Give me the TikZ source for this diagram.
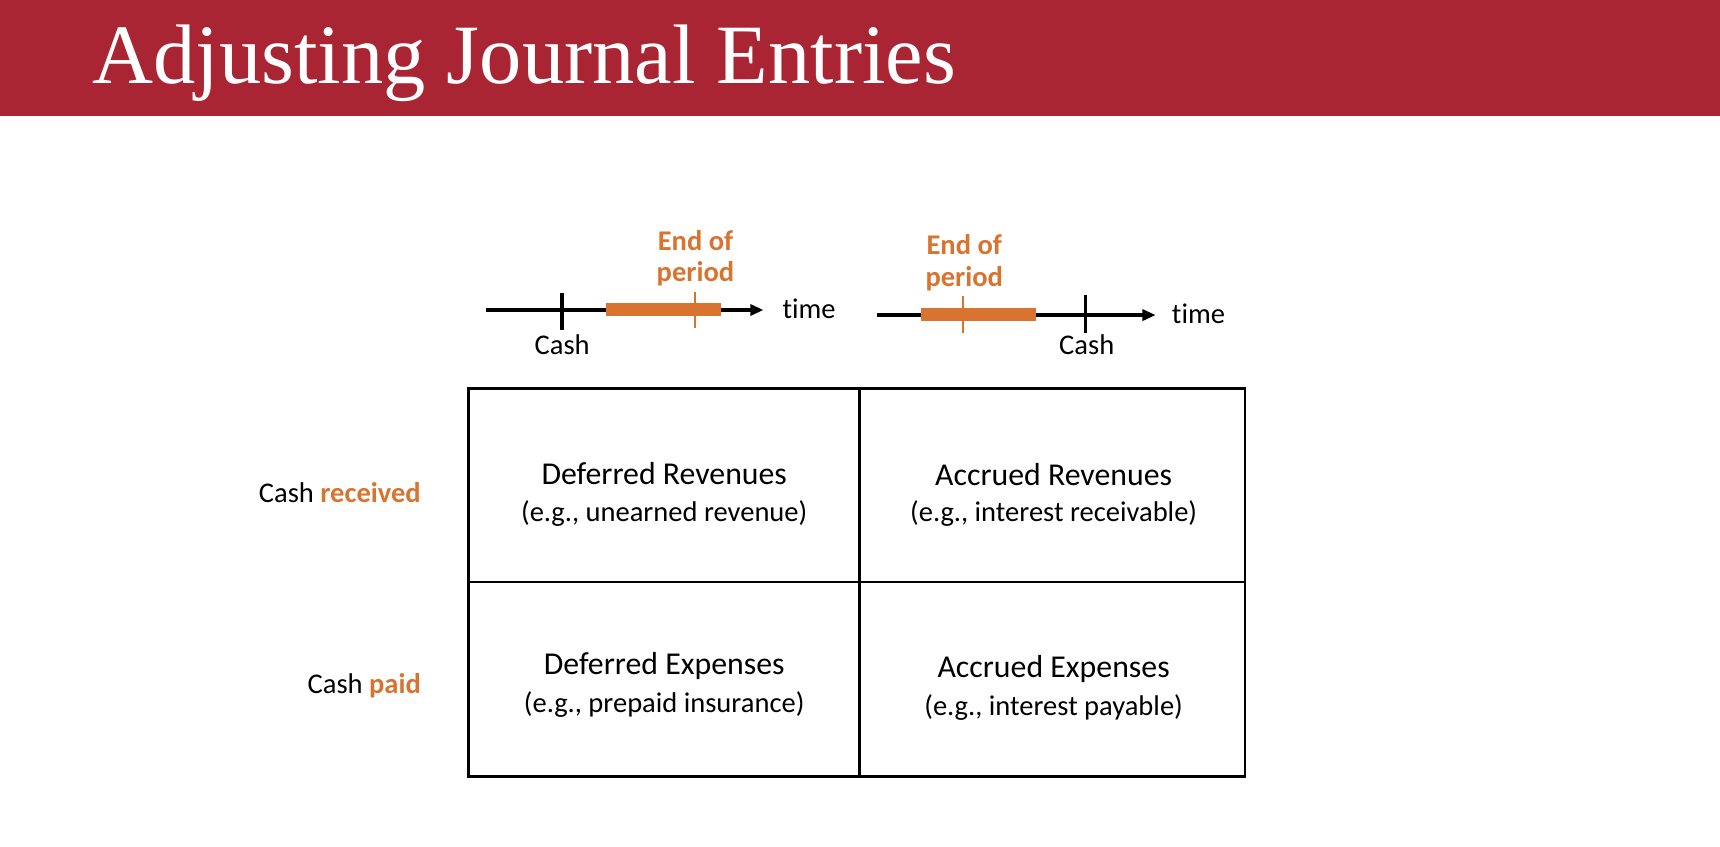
\documentclass[tikz,border=0pt]{standalone}
\usepackage{fontspec}
\setmainfont[Ligatures=NoCommon]{Carlito}
\newfontfamily\titlefont{Liberation Serif}
\usetikzlibrary{arrows.meta}
\definecolor{banner}{RGB}{169,37,52}
\definecolor{accent}{RGB}{216,115,48}
\tikzset{
  lbl/.style={inner sep=0pt, anchor=base, font=\fontsize{13}{15}\selectfont},
  cellhead/.style={inner sep=0pt, anchor=base, font=\fontsize{14.5}{17}\selectfont},
  celleg/.style={inner sep=0pt, anchor=base, font=\fontsize{13}{15}\selectfont},
  eop/.style={lbl, text=accent, font=\fontsize{13}{15}\selectfont\bfseries},
  tline/.style={line width=1.5pt, -{Triangle[length=6pt,width=5pt]}},
  tick/.style={line width=1.5pt},
  otick/.style={line width=1pt, accent},
  cellgrid/.style={line width=1.1pt}
}
\begin{document}
\begin{tikzpicture}[x=0.5pt, y=-0.5pt]
  \useasboundingbox (0, 0) rectangle (1568, 772);
  \fill[banner] (0, 0) rectangle (1568, 106);
  \node[anchor=base west, inner sep=0pt, text=white] (title) at (84, 76)
    {\titlefont\fontsize{38.5}{44}\selectfont Adjusting Journal Entries};

  \coordinate (ta-start) at (443, 282.6);
  \coordinate (ta-end) at (696, 282.6);
  \draw[tline] (ta-start) -- (ta-end);
  \draw[tick] (512.2, 266.8) -- (512.2, 300.8);
  \fill[accent] (552, 276) rectangle (657, 288);
  \draw[otick] (633.3, 265.9) -- (633.3, 299.3);
  \node[lbl, anchor=base west] (ta-time) at (713, 290) {time};
  \node[lbl] (ta-cash) at (512.5, 323.6) {Cash};
  \node[eop] (ta-end1) at (634, 228) {End of};
  \node[eop] (ta-end2) at (634, 256.8) {period};

  \coordinate (tb-start) at (799.4, 287.2);
  \coordinate (tb-end) at (1053.5, 287.2);
  \draw[tline] (tb-start) -- (tb-end);
  \fill[accent] (839.6, 280.5) rectangle (944.3, 292.5);
  \draw[otick] (878, 269.8) -- (878, 303.3);
  \draw[tick] (989.4, 269.2) -- (989.4, 303.3);
  \node[lbl, anchor=base west] (tb-time) at (1068, 295) {time};
  \node[lbl] (tb-cash) at (990.7, 323.6) {Cash};
  \node[eop] (tb-end1) at (879, 231.6) {End of};
  \node[eop] (tb-end2) at (879, 261.3) {period};

  \draw[cellgrid] (427, 354) rectangle (1135, 708);
  \draw[cellgrid] (783.5, 354) -- (783.5, 708);
  \draw[cellgrid] (427, 530.3) -- (1135, 530.3);

  \node[lbl, anchor=base east] (recv) at (384, 458) {Cash \textcolor{accent}{\bfseries received}};
  \node[lbl, anchor=base east] (paid) at (384, 632) {Cash \textcolor{accent}{\bfseries paid}};

  \node[cellhead] (defrev) at (605.5, 442) {Deferred Revenues};
  \node[celleg] (defrev-eg) at (605.5, 475.6) {(e.g., unearned revenue)};
  \node[cellhead] (accrev) at (960.5, 443) {Accrued Revenues};
  \node[celleg] (accrev-eg) at (960.5, 475.6) {(e.g., interest receivable)};
  \node[cellhead] (defexp) at (605.5, 614.6) {Deferred Expenses};
  \node[celleg] (defexp-eg) at (605.5, 649.7) {(e.g., prepaid insurance)};
  \node[cellhead] (accexp) at (960.5, 617.8) {Accrued Expenses};
  \node[celleg] (accexp-eg) at (960.5, 651.8) {(e.g., interest payable)};
\end{tikzpicture}
\end{document}
